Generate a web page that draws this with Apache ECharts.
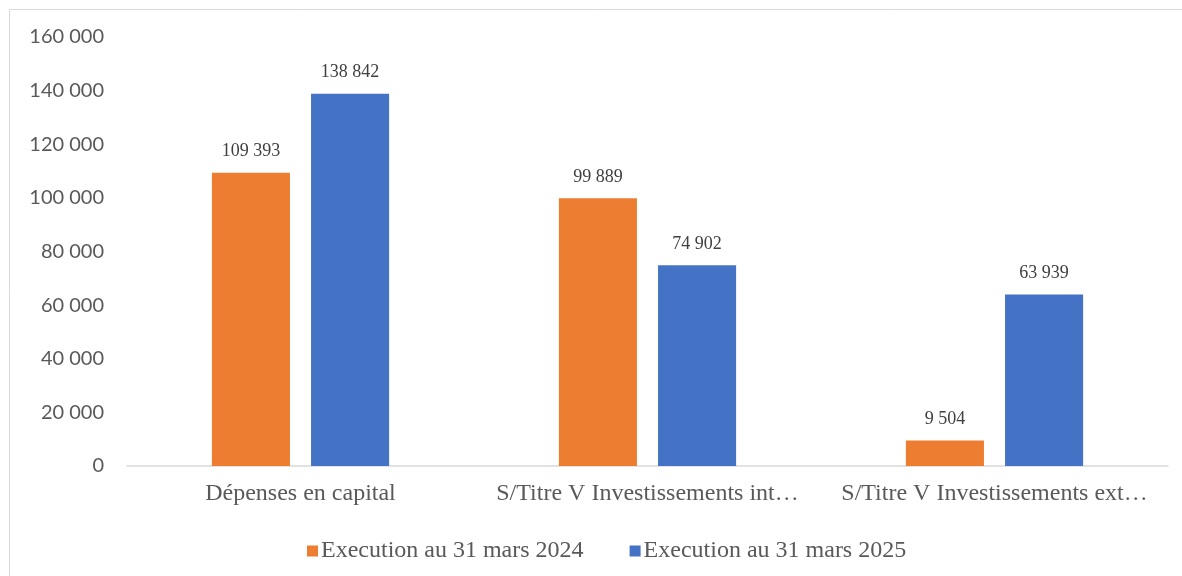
<!DOCTYPE html>
<html>
<head>
<meta charset="utf-8">
<title>Execution</title>
<script src="https://cdn.jsdelivr.net/npm/echarts@6/dist/echarts.min.js"></script>
<style>
  html, body { margin: 0; padding: 0; background: #fff; }
  #chart { width: 1182px; height: 576px; }
</style>
</head>
<body>
<div id="chart"></div>
<script>
const categories = [
  'Dépenses en capital',
  'S/Titre V Investissements int…',
  'S/Titre V Investissements ext…'
];
const seriesNames = ['Execution au 31 mars 2024', 'Execution au 31 mars 2025'];
const values2024 = [109393, 99889, 9504];
const values2025 = [138842, 74902, 63939];

// 1 234 567 style
const fmt = v => String(v).replace(/\B(?=(\d{3})+(?!\d))/g, ' ');

const chart = echarts.init(document.getElementById('chart'));

const barLabel = {
  show: true,
  position: 'top',
  distance: 12,
  fontFamily: 'Liberation Serif',
  fontSize: 18,
  color: '#404040',
  formatter: p => fmt(p.value)
};

chart.setOption({
  animation: false,
  color: ['#ED7D31', '#4472C4'],
  graphic: [{
    type: 'rect',
    shape: { x: 9.5, y: 9.5, width: 1400, height: 800 },
    style: { fill: 'none', stroke: '#D9D9D9', lineWidth: 1 },
    silent: true
  }],
  grid: {
    top: 37,
    left: 127,
    right: 14,
    bottom: 110
  },
  legend: {
    left: 302,
    top: 534,
    itemWidth: 11,
    itemHeight: 11,
    itemGap: 46,
    icon: 'rect',
    textStyle: {
      fontFamily: 'Liberation Serif',
      fontSize: 24,
      color: '#595959',
      padding: [0, 0, 0, -2]
    },
    data: seriesNames
  },
  xAxis: {
    type: 'category',
    data: categories,
    axisLine: { lineStyle: { color: '#D9D9D9', width: 1.5 } },
    axisTick: { show: false },
    axisLabel: {
      interval: 0,
      margin: 16,
      fontFamily: 'Liberation Serif',
      fontSize: 24,
      color: '#595959'
    }
  },
  yAxis: {
    type: 'value',
    min: 0,
    max: 160000,
    interval: 20000,
    splitLine: { show: false },
    axisLine: { show: false },
    axisTick: { show: false },
    axisLabel: {
      margin: 23,
      fontFamily: 'Lato',
      fontSize: 20,
      color: '#595959',
      formatter: v => fmt(v)
    }
  },
  series: [
    {
      name: seriesNames[0],
      type: 'bar',
      data: values2024,
      barWidth: '22.5%',
      barGap: '27%',
      label: barLabel
    },
    {
      name: seriesNames[1],
      type: 'bar',
      data: values2025,
      barWidth: '22.5%',
      label: barLabel
    }
  ]
});
</script>
</body>
</html>
